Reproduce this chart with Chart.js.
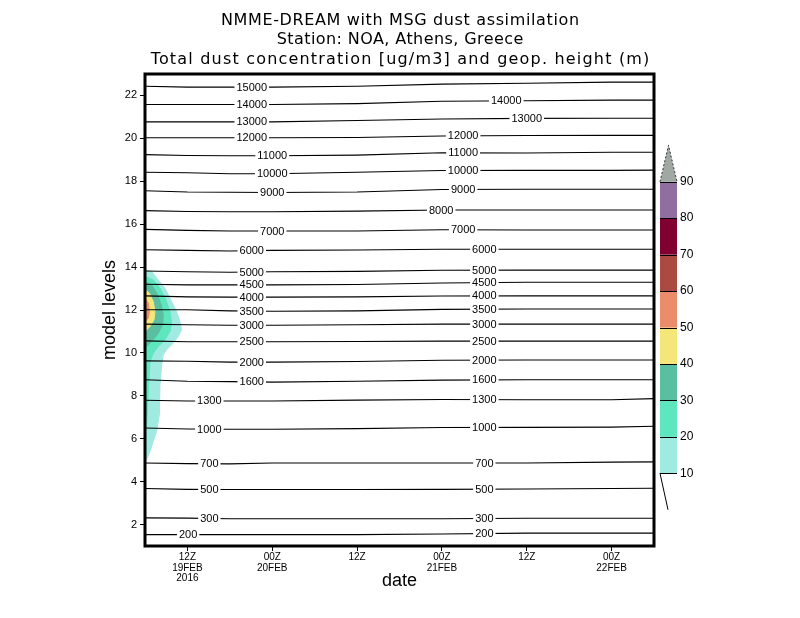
<!DOCTYPE html>
<html>
<head>
<meta charset="utf-8">
<script src="https://cdn.jsdelivr.net/npm/chart.js@4.4.1/dist/chart.umd.min.js"></script>
<style>
  html, body { margin: 0; padding: 0; background: #fff; }
  #wrap { width: 800px; height: 618px; }
</style>
</head>
<body>
<div id="wrap"><canvas id="chart" width="800" height="618"></canvas></div>
<script>
const sampleHours = [6, 12, 18, 24, 36, 48, 60, 72, 78];

// geopotential height contours (m) and their model level at sampleHours
const heightLevels = [15000, 14000, 13000, 12000, 11000, 10000, 9000, 8000, 7000, 6000,
  5000, 4500, 4000, 3500, 3000, 2500, 2000, 1600, 1300, 1000, 700, 500, 300, 200];
const heightLines = [
  [22.43, 22.39, 22.39, 22.39, 22.43, 22.53, 22.57, 22.62, 22.62],
  [21.58, 21.58, 21.58, 21.58, 21.62, 21.73, 21.75, 21.78, 21.78],
  [20.77, 20.77, 20.77, 20.77, 20.83, 20.90, 20.93, 20.94, 20.94],
  [20.03, 20.03, 20.03, 20.03, 20.04, 20.11, 20.13, 20.14, 20.14],
  [19.24, 19.20, 19.19, 19.19, 19.22, 19.33, 19.32, 19.35, 19.35],
  [18.42, 18.40, 18.35, 18.35, 18.42, 18.50, 18.51, 18.51, 18.52],
  [17.56, 17.50, 17.49, 17.48, 17.50, 17.62, 17.63, 17.63, 17.63],
  [16.63, 16.59, 16.58, 16.58, 16.61, 16.66, 16.66, 16.66, 16.66],
  [15.76, 15.71, 15.68, 15.68, 15.68, 15.74, 15.73, 15.73, 15.73],
  [14.81, 14.78, 14.75, 14.78, 14.80, 14.83, 14.83, 14.83, 14.83],
  [13.82, 13.78, 13.76, 13.78, 13.80, 13.85, 13.86, 13.86, 13.86],
  [13.20, 13.17, 13.17, 13.17, 13.19, 13.26, 13.29, 13.29, 13.29],
  [12.66, 12.61, 12.60, 12.60, 12.61, 12.65, 12.66, 12.66, 12.66],
  [12.01, 12.01, 11.96, 11.94, 11.96, 12.03, 12.05, 12.05, 12.05],
  [11.34, 11.31, 11.29, 11.29, 11.31, 11.34, 11.34, 11.34, 11.34],
  [10.56, 10.52, 10.52, 10.52, 10.53, 10.55, 10.55, 10.55, 10.55],
  [9.63, 9.61, 9.57, 9.57, 9.60, 9.66, 9.67, 9.67, 9.67],
  [8.75, 8.68, 8.66, 8.64, 8.68, 8.73, 8.75, 8.75, 8.75],
  [7.79, 7.76, 7.76, 7.76, 7.80, 7.83, 7.82, 7.82, 7.87],
  [6.50, 6.45, 6.44, 6.44, 6.47, 6.52, 6.53, 6.54, 6.58],
  [4.87, 4.84, 4.83, 4.87, 4.87, 4.87, 4.87, 4.91, 4.92],
  [3.68, 3.64, 3.63, 3.63, 3.63, 3.64, 3.66, 3.68, 3.69],
  [2.31, 2.30, 2.27, 2.27, 2.27, 2.27, 2.29, 2.29, 2.29],
  [1.53, 1.53, 1.53, 1.53, 1.53, 1.56, 1.60, 1.60, 1.60]
];
// where the contour labels sit (hour), null = no label
const labelHoursA = [21.1, 21.1, 21.1, 21.1, 24, 24, 24, null, 24, 21.1,
  21.1, 21.1, 21.1, 21.1, 21.1, 21.1, 21.1, 21.1, 15.1, 15.1, 15.1, 15.1, 15.1, 12.1];
const labelHoursB = [null, 57.1, 60, 51, 51, 51, 51, 47.9, 51, 54,
  54, 54, 54, 54, 54, 54, 54, 54, 54, 54, 54, 54, 54, 54];

// dust concentration shading (ug/m3): outline of each level as [hour, model level]
const dustLevels = [10, 20, 30, 40, 50, 60, 70, 80, 90];
const dustColors = ["#a0ebe1", "#5ee6be", "#5abea0", "#f5e67a", "#eb8c6b",
  "#aa4b41", "#800032", "#916ea0", "#a0a8a3"];
const dust10 = [[6.0, 13.87], [6.95, 13.79], [7.88, 13.40], [8.82, 13.02], [9.77, 12.39],
  [10.48, 11.93], [10.94, 11.46], [11.18, 11.08], [10.70, 10.76], [10.0, 10.46],
  [9.06, 10.15], [8.58, 9.91], [8.36, 9.45], [8.12, 8.52], [8.02, 7.12], [7.65, 6.34],
  [7.17, 5.88], [6.71, 5.41], [6.24, 5.03], [6.0, 4.90]];
const dust20 = [[6.0, 13.56], [7.17, 13.40], [8.12, 13.02], [8.96, 12.47], [9.53, 11.93],
  [9.77, 11.39], [9.53, 11.00], [8.82, 10.61], [7.88, 10.30], [7.17, 9.99], [6.71, 9.60],
  [6.56, 8.75], [6.42, 7.82], [6.21, 6.65], [6.0, 6.33]];
const dust30 = [[6.0, 13.32], [6.95, 13.17], [7.65, 12.79], [8.22, 12.32], [8.58, 11.77],
  [8.50, 11.31], [7.88, 10.92], [7.17, 10.61], [6.47, 10.38], [6.0, 10.22]];
const dust40 = [[6.0, 12.94], [6.61, 12.79], [7.17, 12.39], [7.41, 11.93], [7.27, 11.54],
  [6.71, 11.23], [6.0, 11.00]];
const dust50 = [[6.0, 12.55], [6.47, 12.32], [6.61, 11.93], [6.47, 11.62], [6.0, 11.46]];
const dustShapes = [dust10, dust20, dust30, dust40, dust50];

// axes
const yTickValues = [2, 4, 6, 8, 10, 12, 14, 16, 18, 20, 22];
const xTickHours = [12, 24, 36, 48, 60, 72];
const xTickLabels = [["12Z", "19FEB", "2016"], ["00Z", "20FEB"], ["12Z"],
  ["00Z", "21FEB"], ["12Z"], ["00Z", "22FEB"]];
const titleLines = ["NMME-DREAM with MSG dust assimilation",
  "Station: NOA, Athens, Greece",
  "Total dust concentration [ug/m3] and geop. height (m)"];
const titleWidths = [359, 247, 500];

function levelAt(vals, h) {
  for (let i = 0; i < sampleHours.length - 1; i++) {
    if (h >= sampleHours[i] && h <= sampleHours[i + 1]) {
      const t = (h - sampleHours[i]) / (sampleHours[i + 1] - sampleHours[i]);
      return vals[i] + t * (vals[i + 1] - vals[i]);
    }
  }
  return vals[vals.length - 1];
}

const datasets = [];
heightLines.forEach((vals, i) => {
  datasets.push({
    label: heightLevels[i] + " m",
    data: sampleHours.map((h, j) => ({ x: h, y: vals[j] })),
    showLine: true,
    borderColor: "#000",
    borderWidth: 1.1,
    pointRadius: 0,
    fill: false
  });
});
// reversed so the weakest level is painted first
for (let i = dustShapes.length - 1; i >= 0; i--) {
  datasets.push({
    label: "dust " + dustLevels[i],
    data: dustShapes[i].map(p => ({ x: p[0], y: p[1] })),
    showLine: true,
    fill: "shape",
    backgroundColor: dustColors[i],
    borderColor: dustColors[i],
    borderWidth: 1,
    pointRadius: 0
  });
}

const gradsDecor = {
  id: "gradsDecor",
  afterDatasetsDraw(chart) {
    const ctx = chart.ctx;
    const xs = chart.scales.x, ys = chart.scales.y;
    ctx.save();
    ctx.font = "11px 'Liberation Sans'";
    ctx.textAlign = "center";
    ctx.textBaseline = "middle";
    heightLevels.forEach((lev, i) => {
      [labelHoursA[i], labelHoursB[i]].forEach(h => {
        if (h == null) return;
        const px = xs.getPixelForValue(h);
        const py = ys.getPixelForValue(levelAt(heightLines[i], h));
        const txt = String(lev);
        const w = ctx.measureText(txt).width + 4;
        ctx.fillStyle = "#fff";
        ctx.fillRect(px - w / 2, py - 3, w, 6);
        ctx.fillStyle = "#000";
        ctx.fillText(txt, px, py + 0.5);
      });
    });
    const a = chart.chartArea;
    ctx.lineWidth = 3;
    ctx.strokeStyle = "#000";
    ctx.strokeRect(a.left, a.top, a.right - a.left, a.bottom - a.top);
    ctx.restore();
  },
  afterDraw(chart) {
    const ctx = chart.ctx;
    ctx.save();
    // title, stretched a little like the GrADS font
    ctx.fillStyle = "#000";
    ctx.font = "16px 'DejaVu Sans'";
    ctx.textAlign = "center";
    ctx.textBaseline = "alphabetic";
    titleLines.forEach((t, i) => {
      ctx.letterSpacing = "0px";
      const w = ctx.measureText(t).width;
      const sp = Math.max(0, (titleWidths[i] - w) / t.length);
      ctx.letterSpacing = sp.toFixed(2) + "px";
      ctx.fillText(t, 400 + sp / 2, 24.5 + i * 19.6);
    });
    ctx.letterSpacing = "0px";

    // colour bar
    const left = 660, right = 677, bottom = 473.3, step = 36.45;
    for (let i = 0; i < dustLevels.length - 1; i++) {
      ctx.fillStyle = dustColors[i];
      ctx.fillRect(left, bottom - (i + 1) * step, right - left, step);
    }
    const top = bottom - (dustLevels.length - 1) * step;
    ctx.beginPath();
    ctx.moveTo(left, top);
    ctx.lineTo((left + right) / 2, top - step);
    ctx.lineTo(right, top);
    ctx.closePath();
    ctx.fillStyle = dustColors[dustColors.length - 1];
    ctx.fill();
    ctx.setLineDash([2, 2]);
    ctx.strokeStyle = "#333";
    ctx.lineWidth = 1;
    ctx.beginPath();
    ctx.moveTo(left, top);
    ctx.lineTo((left + right) / 2, top - step);
    ctx.lineTo(right, top);
    ctx.stroke();
    ctx.setLineDash([]);
    ctx.strokeStyle = "#000";
    ctx.beginPath();
    dustLevels.forEach((lev, i) => {
      const y = Math.round(bottom - i * step) + 0.5;
      ctx.moveTo(left, y);
      ctx.lineTo(right, y);
    });
    ctx.moveTo(left, bottom);
    ctx.lineTo(left + 8, bottom + step);
    ctx.stroke();
    ctx.fillStyle = "#000";
    ctx.font = "12px 'Liberation Sans'";
    ctx.textAlign = "left";
    ctx.textBaseline = "middle";
    dustLevels.forEach((lev, i) => ctx.fillText(String(lev), 680, bottom - i * step));
    ctx.restore();
  }
};

new Chart(document.getElementById("chart"), {
  type: "scatter",
  data: { datasets: datasets },
  plugins: [gradsDecor],
  options: {
    responsive: false,
    animation: false,
    events: [],
    layout: { padding: { left: 99, right: 146, top: 74, bottom: 26 } },
    plugins: { legend: { display: false }, tooltip: { enabled: false }, title: { display: false } },
    scales: {
      x: {
        type: "linear",
        min: 6,
        max: 78,
        afterBuildTicks: s => { s.ticks = xTickHours.map(v => ({ value: v })); },
        afterFit: s => { s.height = 46; },
        ticks: {
          autoSkip: false,
          maxRotation: 0,
          padding: 1,
          color: "#000",
          font: { family: "Liberation Sans", size: 10, lineHeight: 1.05 },
          callback: v => xTickLabels[xTickHours.indexOf(v)]
        },
        grid: { drawOnChartArea: false, drawTicks: true, tickLength: 5, color: "#000", tickColor: "#000" },
        border: { display: false },
        title: { display: true, text: "date", color: "#000", padding: 0,
          font: { family: "Liberation Sans", size: 18 } }
      },
      y: {
        type: "linear",
        min: 1,
        max: 23,
        afterBuildTicks: s => { s.ticks = yTickValues.map(v => ({ value: v })); },
        afterFit: s => { s.width = 46; },
        ticks: {
          padding: 3,
          color: "#000",
          font: { family: "Liberation Sans", size: 11 },
          callback: v => String(v)
        },
        grid: { drawOnChartArea: false, drawTicks: true, tickLength: 5, color: "#000", tickColor: "#000" },
        border: { display: false },
        title: { display: true, text: "model levels", color: "#000", padding: 0,
          font: { family: "Liberation Sans", size: 18 } }
      }
    }
  }
});
</script>
</body>
</html>
